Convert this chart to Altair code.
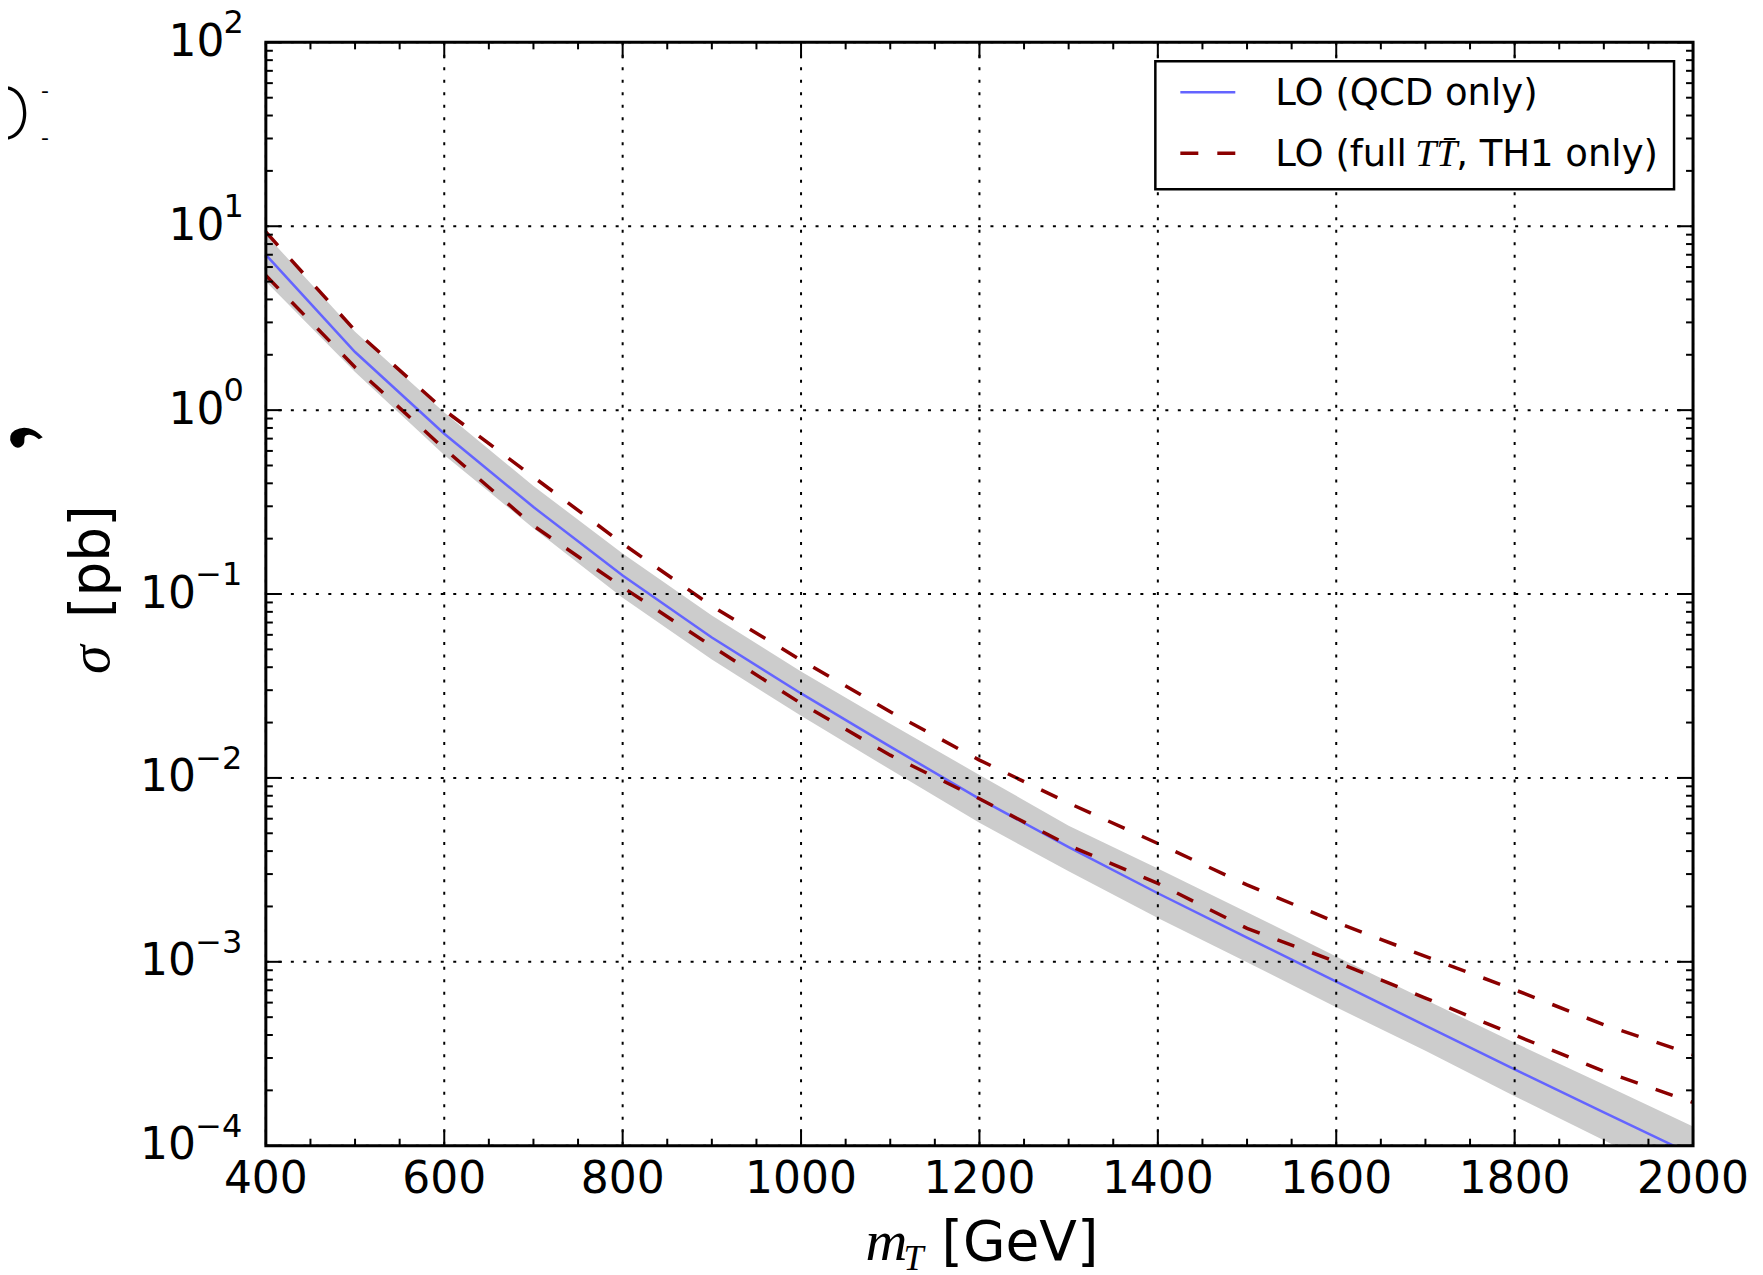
import altair as alt
import pandas as pd

# ---------------- data ----------------
m_T = [400, 500, 600, 700, 800, 900, 1000, 1100, 1200, 1300, 1400, 1500, 1600, 1700, 1800, 1900, 2000]
lo_qcd = [7.0, 2.07, 0.744, 0.297, 0.126, 0.058, 0.0288, 0.0148, 0.0077, 0.0042, 0.00236, 0.001355,
          0.00078, 0.00045, 0.00026, 0.000152, 0.000089]
band_lo = [5.0, 1.61, 0.571, 0.228, 0.0955, 0.0440, 0.0218, 0.0111, 0.00570, 0.00311, 0.00173, 0.000995,
           0.000566, 0.000328, 0.000186, 0.000107, 0.000062]
band_hi = [9.0, 2.67, 0.970, 0.387, 0.166, 0.0764, 0.0379, 0.0197, 0.01038, 0.0055, 0.00322, 0.00186,
           0.00107, 0.000622, 0.000363, 0.000215, 0.000127]
full_hi = [9.3, 2.71, 1.0, 0.433, 0.188, 0.086, 0.0437, 0.0229, 0.0125, 0.0073, 0.0044, 0.00262,
           0.00164, 0.00107, 0.000705, 0.000455, 0.000313]
full_lo = [5.4, 1.71, 0.617, 0.235, 0.109, 0.052, 0.0254, 0.0133, 0.0077, 0.0043, 0.00267, 0.00152,
           0.00100, 0.000635, 0.000400, 0.000254, 0.000172]

x_major = [400, 600, 800, 1000, 1200, 1400, 1600, 1800, 2000]
x_labels = ["400", "600", "800", "1000", "1200", "1400", "1600", "1800", "2000"]
x_minor = [v for v in range(450, 2000, 50) if v % 200 != 0]
y_major = [1e2, 1e1, 1e0, 1e-1, 1e-2, 1e-3, 1e-4]
y_pos = [1e2, 1e1, 1e0]
y_pos_exp = ["2", "1", "0"]
y_neg = [1e-1, 1e-2, 1e-3, 1e-4]
y_neg_exp = ["\u22121", "\u22122", "\u22123", "\u22124"]
y_minor = [k * 10.0 ** e for e in range(-4, 2) for k in range(2, 10)]

W, H = 1428, 1104
SANS = "DejaVu Sans"
SERIF = "Liberation Serif"

xs = alt.Scale(domain=[400, 2000], nice=False, zero=False)
ys = alt.Scale(type="log", domain=[1e-4, 1e2], nice=False)

df = pd.DataFrame({"m": m_T, "qcd": lo_qcd, "lo": band_lo, "hi": band_hi,
                   "fhi": full_hi, "flo": full_lo})

X = alt.X("m:Q", scale=xs, axis=None)

band = alt.Chart(df).mark_area(color="#cccccc", clip=True).encode(
    x=X, y=alt.Y("lo:Q", scale=ys, axis=None), y2="hi:Q")
blue = alt.Chart(df).mark_line(color="#6464ff", strokeWidth=2.5, clip=True).encode(
    x=X, y=alt.Y("qcd:Q", scale=ys, axis=None))
red_hi = alt.Chart(df).mark_line(color="#8b0000", strokeWidth=3.5, strokeDash=[18, 19], clip=True).encode(
    x=X, y=alt.Y("fhi:Q", scale=ys, axis=None))
red_lo = alt.Chart(df).mark_line(color="#8b0000", strokeWidth=3.5, strokeDash=[18, 19], clip=True).encode(
    x=X, y=alt.Y("flo:Q", scale=ys, axis=None))

# grid
gx = pd.DataFrame({"m": x_major})
gy = pd.DataFrame({"v": y_major})
grid_style = dict(color="black", strokeWidth=2, strokeDash=[3, 9.5])
xgrid = alt.Chart(gx).mark_rule(**grid_style).encode(x=X)
ygrid = alt.Chart(gy).mark_rule(**grid_style).encode(y=alt.Y("v:Q", scale=ys, axis=None))

# inward ticks on all four sides
tmaj, tmin = 16, 7
tx_min = pd.DataFrame({"m": x_minor})
ty_min = pd.DataFrame({"v": y_minor})
tick_style = dict(color="black", strokeWidth=2)
Yv = alt.Y("v:Q", scale=ys, axis=None)
ticks = [
    alt.Chart(gx).mark_rule(**tick_style).encode(x=X, y=alt.value(H - tmaj), y2=alt.value(H)),
    alt.Chart(gx).mark_rule(**tick_style).encode(x=X, y=alt.value(0), y2=alt.value(tmaj)),
    alt.Chart(tx_min).mark_rule(**tick_style).encode(x=X, y=alt.value(H - tmin), y2=alt.value(H)),
    alt.Chart(tx_min).mark_rule(**tick_style).encode(x=X, y=alt.value(0), y2=alt.value(tmin)),
    alt.Chart(gy).mark_rule(**tick_style).encode(y=Yv, x=alt.value(0), x2=alt.value(tmaj)),
    alt.Chart(gy).mark_rule(**tick_style).encode(y=Yv, x=alt.value(W - tmaj), x2=alt.value(W)),
    alt.Chart(ty_min).mark_rule(**tick_style).encode(y=Yv, x=alt.value(0), x2=alt.value(tmin)),
    alt.Chart(ty_min).mark_rule(**tick_style).encode(y=Yv, x=alt.value(W - tmin), x2=alt.value(W)),
]

# tick labels
xlab = alt.Chart(pd.DataFrame({"m": x_major, "t": x_labels})).mark_text(
    font=SANS, fontSize=44, align="center", baseline="alphabetic", color="black").encode(
    x=X, y=alt.value(H + 47), text="t:N")

pos_df = pd.DataFrame({"v": y_pos, "e": y_pos_exp})
neg_df = pd.DataFrame({"v": y_neg, "e": y_neg_exp})
ten_pos = alt.Chart(pos_df).mark_text(text="10", font=SANS, fontSize=44, align="right",
                                      baseline="alphabetic", dy=13.5, color="black").encode(
    x=alt.value(-41.5), y=Yv)
ten_neg = alt.Chart(neg_df).mark_text(text="10", font=SANS, fontSize=44, align="right",
                                      baseline="alphabetic", dy=13.5, color="black").encode(
    x=alt.value(-70), y=Yv)
exp_pos = alt.Chart(pos_df).mark_text(font=SANS, fontSize=32, align="right",
                                      baseline="alphabetic", dy=-9, color="black").encode(
    x=alt.value(-22), y=Yv, text="e:N")
exp_neg = alt.Chart(neg_df).mark_text(font=SANS, fontSize=32, align="right",
                                      baseline="alphabetic", dy=-9, color="black").encode(
    x=alt.value(-23.5), y=Yv, text="e:N")

one = pd.DataFrame({"k": [0]})


def txt(s, x, y, font=SANS, size=55, style="normal", angle=0, align="left", weight="normal"):
    return alt.Chart(one).mark_text(text=s, font=font, fontSize=size, fontStyle=style,
                                    fontWeight=weight, align=align, baseline="alphabetic",
                                    angle=angle, color="black").encode(
        x=alt.value(x), y=alt.value(y))


# axis titles
titles = [
    txt("m", 600, H + 114, font=SERIF, size=58, style="italic"),
    txt("T", 638, H + 124, font=SERIF, size=36, style="italic"),
    txt("[GeV]", 676, H + 114, size=55),
    txt("\u03c3", -157, 632, font=SERIF, size=58, style="italic", angle=270),
    txt("[pb]", -157, 576, size=55, angle=270),
]

# cropped glyph fragments at the left edge of the reference
fragments = [
    txt("O", -262, 97, font="Inter", size=72, align="center", weight=200),
    txt("-", -221, 56, size=22, align="center"),
    txt("-", -221, 103, size=22, align="center"),
    txt(",", -236, 404, font=SERIF, size=100, angle=240, weight="bold"),
]

# legend
legend = [
    alt.Chart(one).mark_rect(fill="white", stroke="black", strokeWidth=2.5).encode(
        x=alt.value(890), x2=alt.value(1409), y=alt.value(19), y2=alt.value(147)),
    alt.Chart(one).mark_rule(color="#6464ff", strokeWidth=2.5).encode(
        x=alt.value(915), x2=alt.value(970), y=alt.value(50)),
    alt.Chart(one).mark_rule(color="#8b0000", strokeWidth=3.5, strokeDash=[18, 19]).encode(
        x=alt.value(915), x2=alt.value(970), y=alt.value(111)),
    txt("LO (QCD only)", 1010, 63, size=37),
    txt("LO (full", 1010, 124, size=37),
    txt("TT\u0304", 1150, 124, font=SERIF, size=38, style="italic"),
    txt(", TH1 only)", 1191, 124, size=37),
]

frame = alt.Chart(one).mark_rect(fillOpacity=0, stroke="black", strokeWidth=3).encode(
    x=alt.value(0), x2=alt.value(W), y=alt.value(0), y2=alt.value(H))

chart = alt.layer(
    band, blue, red_hi, red_lo, xgrid, ygrid, *ticks, xlab, ten_pos, ten_neg, exp_pos, exp_neg,
    *titles, *fragments, *legend, frame
).properties(
    width=W, height=H,
    autosize=alt.AutoSizeParams(type="none"),
    padding={"left": 258, "top": 34, "right": 62, "bottom": 126},
).configure_view(strokeWidth=0)

chart.save("out.html", embed_options={"renderer": "svg", "actions": False})
